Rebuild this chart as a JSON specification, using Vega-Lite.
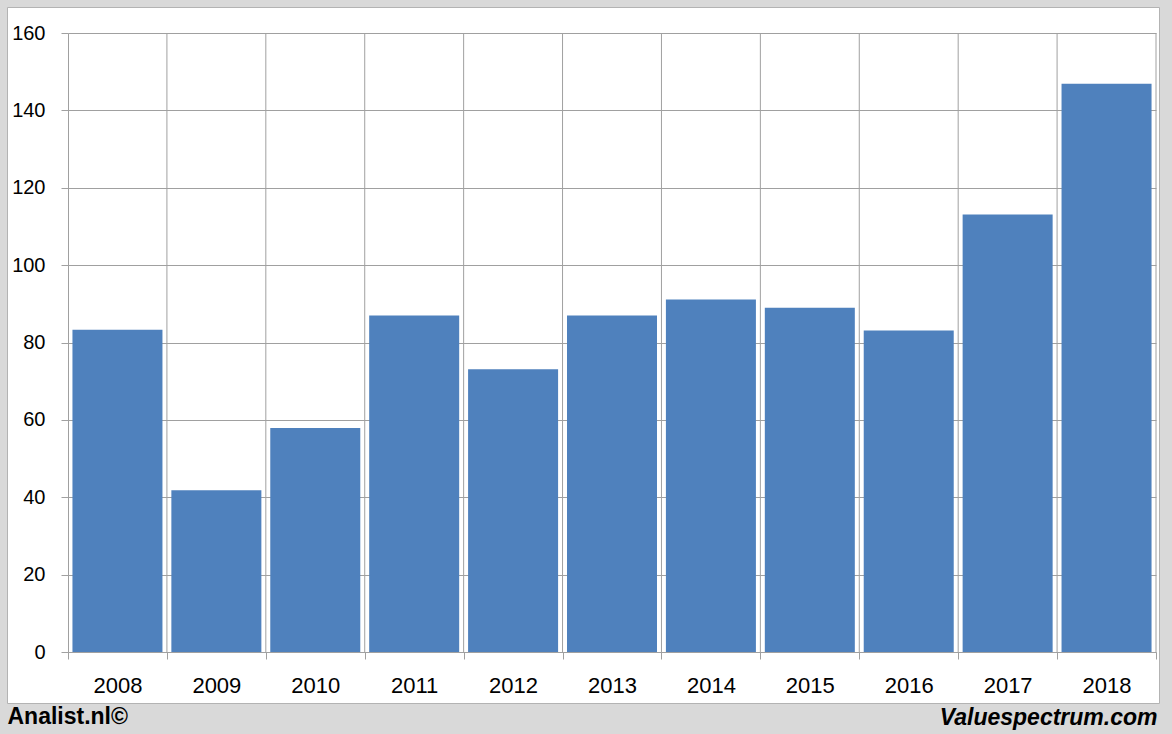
{
  "$schema": "https://vega.github.io/schema/vega-lite/v6.json",
  "autosize": {"type": "none"},
  "padding": {"left": 7, "top": 7, "right": 13, "bottom": 31},
  "width": 1152,
  "height": 696,
  "background": "#d9d9d9",
  "view": {"fill": "#ffffff", "stroke": "#b3b3b3", "strokeWidth": 1},
  "config": {"font": "Liberation Sans"},
  "data": {
    "values": [
      {"year": "2008", "value": 83.3},
      {"year": "2009", "value": 41.8},
      {"year": "2010", "value": 57.9},
      {"year": "2011", "value": 87.0},
      {"year": "2012", "value": 73.1},
      {"year": "2013", "value": 87.0},
      {"year": "2014", "value": 91.1},
      {"year": "2015", "value": 89.0},
      {"year": "2016", "value": 83.1},
      {"year": "2017", "value": 113.1},
      {"year": "2018", "value": 146.9}
    ]
  },
  "layer": [
    {
      "mark": {"type": "rule", "color": "#a0a0a0", "strokeWidth": 1},
      "encoding": {
        "x": {
          "field": "year",
          "type": "nominal",
          "sort": "ascending",
          "bandPosition": 1
        },
        "y": {"datum": 0, "type": "quantitative"},
        "y2": {"datum": 160}
      }
    },
    {
      "mark": {"type": "bar", "color": "#4f81bd", "width": {"band": 0.91}},
      "encoding": {
        "x": {
          "field": "year",
          "type": "nominal",
          "sort": "ascending",
          "scale": {"type": "band", "range": [61, 1149], "paddingInner": 0, "paddingOuter": 0},
          "axis": {
            "orient": "bottom",
            "offset": -51,
            "bandPosition": 0.5,
            "tickBand": "extent",
            "grid": false,
            "domain": true,
            "domainColor": "#a0a0a0",
            "domainWidth": 1,
            "ticks": true,
            "tickColor": "#a0a0a0",
            "tickSize": 7,
            "labelAngle": 0,
            "labelAlign": "center",
            "labelFontSize": 22,
            "labelColor": "#000000",
            "labelBaseline": "alphabetic",
            "labelPadding": 33,
            "title": "Valuespectrum.com",
            "titleFontSize": 23,
            "titleFontWeight": "bold",
            "titleFontStyle": "italic",
            "titleColor": "#000000",
            "titleAlign": "right",
            "titleAnchor": null,
            "titleBaseline": "alphabetic",
            "titleX": 1150,
            "titleY": 72
          }
        },
        "y": {
          "field": "value",
          "type": "quantitative",
          "scale": {"domain": [0, 160], "range": [645, 26], "nice": false, "zero": true},
          "axis": {
            "orient": "left",
            "offset": -61,
            "values": [0, 20, 40, 60, 80, 100, 120, 140, 160],
            "grid": true,
            "gridColor": "#a0a0a0",
            "gridWidth": 1,
            "domain": true,
            "domainColor": "#a0a0a0",
            "domainWidth": 1,
            "ticks": true,
            "tickColor": "#a0a0a0",
            "tickSize": 7,
            "labelFontSize": 20,
            "labelColor": "#000000",
            "labelPadding": 16,
            "labelBaseline": "middle",
            "title": "Analist.nl©",
            "titleFontSize": 23,
            "titleFontWeight": "bold",
            "titleColor": "#000000",
            "titleAngle": 0,
            "titleAlign": "left",
            "titleAnchor": null,
            "titleBaseline": "alphabetic",
            "titleX": -61,
            "titleY": 716
          }
        }
      }
    }
  ]
}
